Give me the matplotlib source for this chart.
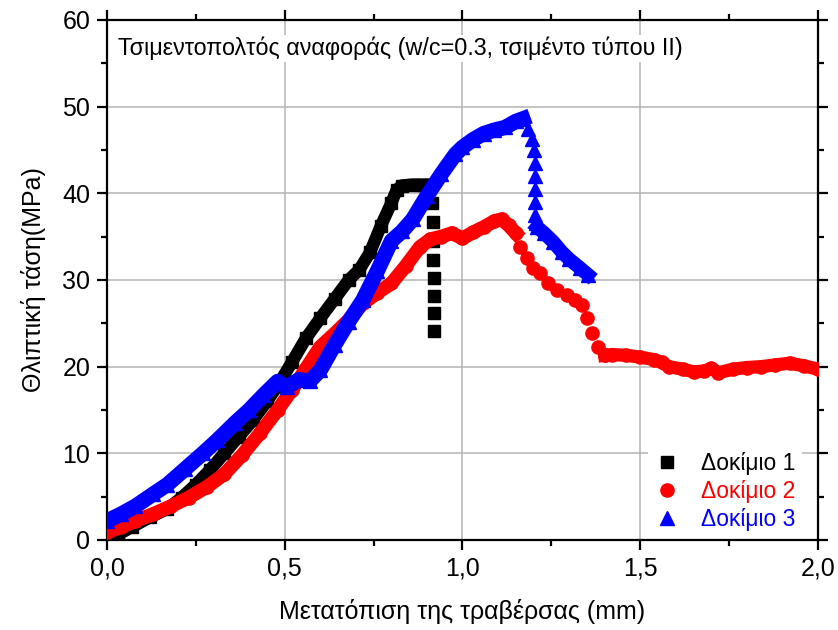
import matplotlib
matplotlib.use("Agg")
import matplotlib.pyplot as plt
from matplotlib.ticker import MultipleLocator, FuncFormatter

plt.rcParams["font.family"] = ["Liberation Sans", "DejaVu Sans"]

# Δοκίμιο 1 (dense part, then the drop after failure)
x1 = [0.0, 0.03, 0.07, 0.12, 0.17, 0.21, 0.25, 0.29, 0.33, 0.37, 0.41, 0.45, 0.48,
      0.52, 0.56, 0.60, 0.64, 0.68, 0.71, 0.74, 0.77, 0.80, 0.815, 0.83, 0.86, 0.89, 0.91]
y1 = [0.0, 0.6, 1.5, 2.6, 3.6, 4.9, 6.4, 8.1, 10.0, 11.9, 13.8, 16.0, 17.8,
      20.5, 23.3, 25.6, 27.8, 30.0, 31.2, 33.2, 36.2, 38.9, 40.4, 40.9, 41.0, 41.0, 41.0]
x1_drop = [0.915, 0.917, 0.918, 0.918, 0.919, 0.919, 0.919, 0.92]
y1_drop = [38.9, 36.7, 34.5, 32.3, 30.2, 28.1, 26.2, 24.1]

# Δοκίμιο 2
x2 = [0.0, 0.04, 0.08, 0.13, 0.18, 0.23, 0.28, 0.33, 0.38, 0.43, 0.48, 0.52, 0.56,
      0.60, 0.64, 0.68, 0.72, 0.76, 0.80, 0.84, 0.88, 0.91, 0.94, 0.97, 1.00, 1.03,
      1.06, 1.09, 1.11, 1.13, 1.15]
y2 = [0.9, 1.5, 2.2, 3.0, 3.9, 4.9, 6.1, 7.6, 9.8, 12.3, 15.0, 17.3, 19.8,
      22.3, 23.8, 25.4, 27.3, 28.5, 29.6, 31.6, 33.8, 34.7, 35.0, 35.4, 34.8, 35.5,
      36.1, 36.8, 37.0, 36.3, 35.4]
x2_drop = [1.162, 1.181, 1.198, 1.218, 1.24, 1.265, 1.294, 1.316, 1.336, 1.35,
           1.364, 1.381, 1.40]
y2_drop = [33.8, 32.5, 31.4, 30.8, 29.6, 28.8, 28.3, 27.7, 27.1, 25.6,
           23.9, 22.3, 21.3]
x2_tail = [1.40, 1.42, 1.46, 1.50, 1.54, 1.56, 1.58, 1.62, 1.65, 1.68, 1.70, 1.72,
           1.76, 1.80, 1.84, 1.88, 1.92, 1.96, 2.0]
y2_tail = [21.3, 21.4, 21.3, 21.1, 20.8, 20.5, 20.0, 19.7, 19.4, 19.5, 19.8, 19.3,
           19.7, 19.9, 20.0, 20.2, 20.4, 20.1, 19.7]

# Δοκίμιο 3
x3 = [0.0, 0.04, 0.08, 0.13, 0.17, 0.22, 0.27, 0.31, 0.36, 0.40, 0.44, 0.48, 0.505,
      0.54, 0.57, 0.60, 0.64, 0.68, 0.72, 0.76, 0.80, 0.83, 0.86, 0.90, 0.94, 0.98,
      1.00, 1.03, 1.06, 1.09, 1.12, 1.15, 1.17]
y3 = [2.2, 3.0, 3.9, 5.3, 6.4, 8.2, 10.0, 11.5, 13.5, 15.0, 16.7, 18.3, 17.6,
      18.5, 18.3, 19.6, 22.5, 25.2, 27.7, 31.0, 34.5, 35.6, 37.0, 39.7, 42.2, 44.5,
      45.3, 46.2, 46.9, 47.3, 47.6, 48.3, 48.6]
x3_drop = [1.185, 1.195, 1.20, 1.204, 1.205, 1.205, 1.205, 1.205, 1.207]
y3_drop = [47.4, 46.3, 45.0, 43.5, 42.0, 40.5, 39.0, 37.5, 36.6]
x3_tail = [1.21, 1.23, 1.255, 1.28, 1.30, 1.33, 1.353]
y3_tail = [36.1, 35.4, 34.4, 33.2, 32.4, 31.4, 30.6]

labels = ["Δοκίμιο 1", "Δοκίμιο 2", "Δοκίμιο 3"]

fig = plt.figure(figsize=(8.38, 6.30), dpi=100)
ax = fig.add_axes([0.1277, 0.1429, 0.8484, 0.8254])

# dense bands: thick line of the same colour under the markers
ax.plot(x1, y1, "-", color="black", lw=9, zorder=2)
ax.plot(x1, y1, "s", color="black", ms=8, zorder=2)
h1, = ax.plot(x1_drop, y1_drop, "s", color="black", ms=8, zorder=2, label=labels[0])

ax.plot(x2, y2, "-", color="red", lw=10, zorder=3)
ax.plot(x2, y2, "o", color="red", ms=9.5, zorder=3)
h2, = ax.plot(x2_drop, y2_drop, "o", color="red", ms=9.5, zorder=3, label=labels[1])
ax.plot(x2_tail, y2_tail, "-", color="red", lw=9.5, zorder=3)
ax.plot(x2_tail, y2_tail, "o", color="red", ms=9.5, zorder=3)

ax.plot(x3, y3, "-", color="blue", lw=11, zorder=4)
ax.plot(x3, y3, "^", color="blue", ms=10, zorder=4)
h3, = ax.plot(x3_drop, y3_drop, "^", color="blue", ms=10, zorder=4, label=labels[2])
ax.plot(x3_tail, y3_tail, "-", color="blue", lw=10, zorder=4)
ax.plot(x3_tail, y3_tail, "^", color="blue", ms=10, zorder=4)

ax.set_xlim(0, 2.0)
ax.set_ylim(0, 60)
ax.xaxis.set_major_locator(MultipleLocator(0.5))
ax.xaxis.set_minor_locator(MultipleLocator(0.25))
ax.yaxis.set_major_locator(MultipleLocator(10))
ax.yaxis.set_minor_locator(MultipleLocator(5))
ax.xaxis.set_major_formatter(FuncFormatter(lambda v, p: f"{v:.1f}".replace(".", ",")))
ax.yaxis.set_major_formatter(FuncFormatter(lambda v, p: f"{v:.0f}"))

ax.grid(True, which="major", color="#b4b4b4", lw=1.1, zorder=0)
ax.set_axisbelow(True)
for s in ax.spines.values():
    s.set_linewidth(1.6)
ax.tick_params(which="both", direction="out", top=True, right=True, width=1.6,
               labelsize=18, pad=5)
ax.tick_params(which="major", length=7)
ax.tick_params(which="minor", length=4)

ax.set_xlabel("Μετατόπιση της τραβέρσας (mm)", fontsize=18, labelpad=13)
ax.set_ylabel("Θλιπτική τάση(MPa)", fontsize=18, labelpad=12)

ax.text(0.016, 0.945, "Τσιμεντοπολτός αναφοράς (w/c=0.3, τσιμέντο τύπου II)",
        transform=ax.transAxes, fontsize=16.8, va="center", ha="left",
        bbox=dict(facecolor="white", edgecolor="none", pad=1), zorder=5)

leg = ax.legend(handles=[h1, h2, h3], loc="lower right", bbox_to_anchor=(0.978, 0.004),
                borderaxespad=0, fontsize=16.5, frameon=True, fancybox=False,
                handlelength=1.0, handletextpad=1.0, labelspacing=0.22,
                borderpad=0.3, markerscale=1.0)
leg.get_frame().set_edgecolor("none")
leg.get_frame().set_facecolor("white")
leg.get_frame().set_alpha(1)
for t, c in zip(leg.get_texts(), ["black", "red", "blue"]):
    t.set_color(c)

fig.savefig("out.png", dpi=100)
